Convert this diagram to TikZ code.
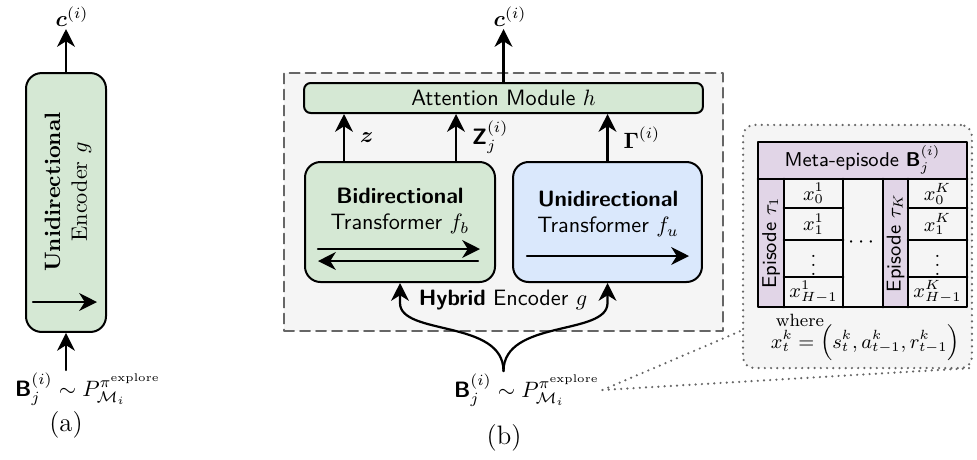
\documentclass[tikz,border=0pt]{standalone}
\usepackage{amsmath,amssymb}
\usetikzlibrary{arrows.meta,calc}
\newcommand{\sfB}{\mbox{\sffamily\bfseries B}}
\newcommand{\sfZ}{\mbox{\sffamily\bfseries Z}}
\newcommand{\explore}{P_{\mathcal{M}_i}^{\pi^{\mathrm{explore}}}}
\begin{document}
\begin{tikzpicture}[x=0.45pt, y=-0.45pt, line cap=round, line join=round,
    >={Stealth[length=8pt,width=8pt,inset=2.5pt]},
    flow/.style={->, line width=1pt},
    encbox/.style={draw, line width=0.9pt, fill=boxgreen, rounded corners=7pt, inner sep=0pt},
    lbl/.style={inner sep=1pt},
    dots/.style={draw=edgegray, dash pattern=on 0pt off 2.8pt, line width=1.1pt}]
  \definecolor{boxgreen}{HTML}{D5E8D4}
  \definecolor{boxblue}{HTML}{DAE8FC}
  \definecolor{boxpurple}{HTML}{E1D5E7}
  \definecolor{panelgray}{HTML}{F5F5F5}
  \definecolor{edgegray}{HTML}{666666}
  \useasboundingbox (0,0) rectangle (977,459);

  % (a)
  \node[encbox, minimum width=36pt, minimum height=116.5pt] (encA) at (66,202.5) {};
  \node[rotate=90, align=center] (encAtxt) at (68,192) {\textbf{Unidirectional}\\Encoder $g$};
  \draw[flow] (33,302) -- (97,302);
  \node[lbl, anchor=south] (cA) at (72,29) {$\boldsymbol{c}^{(i)}$};
  \draw[flow] (encA.north) -- (encA.north |- cA.south);
  \node[lbl] (inA) at (88,389) {$\sfB_j^{(i)} \sim \explore$};
  \draw[flow] (encA.south |- inA.north) -- (encA.south);
  \node[font=\large] (capA) at (66,425) {(a)};

  % (b)
  \node[draw=edgegray, dash pattern=on 4.5pt off 2.7pt, line width=0.8pt, fill=panelgray,
    minimum width=197.5pt, minimum height=116pt, inner sep=0pt] (hyb) at (503.5,202) {};
  \node[encbox, rounded corners=3pt, minimum width=179.5pt, minimum height=13.5pt,
    font=\sffamily] (attn) at (503.5,98) {Attention Module $h$};
  \node[encbox, minimum width=85.5pt, minimum height=54pt] (bidir) at (400,222) {};
  \node[encbox, fill=boxblue, minimum width=85pt, minimum height=54pt] (unidir) at (607.5,222) {};
  \node[align=center, font=\sffamily] (bidirtxt) at (400,211) {\textbf{Bidirectional}\\Transformer $f_b$};
  \node[align=center, font=\sffamily] (unidirtxt) at (608,214) {\textbf{Unidirectional}\\Transformer $f_u$};
  \draw[flow] (318,249) -- (480,249);
  \draw[flow] (478,261) -- (318,261);
  \draw[flow] (527,256) -- (689,256);

  \coordinate (zb) at ($(bidir.north west)+(40,0)$);
  \coordinate (Zb) at ($(bidir.north east)+(-40,0)$);
  \draw[flow] (zb) -- (zb |- attn.south) node[midway, right=3.4pt] {$\boldsymbol{z}$};
  \draw[flow] (Zb) -- (Zb |- attn.south) node[midway, right=3.4pt] {$\sfZ_j^{(i)}$};
  \draw[flow] (unidir.north) -- (attn.south -| unidir.north) node[midway, right=3.4pt] {$\boldsymbol{\Gamma}^{(i)}$};

  \node[lbl, anchor=south] (cB) at (510,29) {$\boldsymbol{c}^{(i)}$};
  \draw[flow] (attn.north) -- (attn.north |- cB.south);

  \node[font=\sffamily] (hybtxt) at (503,300) {\textbf{Hybrid} Encoder $g$};
  \node[lbl] (inB) at (527,390) {$\sfB_j^{(i)} \sim \explore$};
  \coordinate (hin) at (inB.north -| hyb.south);
  \draw[flow] (hin) .. controls +(0,-52) and +(0,33) .. ($(bidir.south)+(0,20)$) -- (bidir.south);
  \draw[flow] (hin) .. controls +(0,-52) and +(0,33) .. ($(unidir.south)+(0,20)$) -- (unidir.south);
  \node[font=\large] (capB) at (504,438) {(b)};

  % zoomed meta-episode
  \draw[dots] (inB.east) -- ($(743,368)+(0,-38)$);
  \draw[dots] (inB.east) -- (972,368);
  \node[dots, fill=panelgray, rounded corners=5pt, minimum width=103pt,
    minimum height=109.4pt, inner sep=0pt] (zoom) at (857.5,246.5) {};

  \fill[boxpurple] (758,142) rectangle (967,179);
  \fill[boxpurple] (758,179) rectangle (784,307);
  \fill[boxpurple] (883,179) rectangle (908,307);
  \draw[very thick] (758,142) rectangle (967,307);
  \draw[very thick] (758,179) -- (967,179);
  \foreach \vx in {784,843,883,908}
    \draw[very thick] (\vx,179) -- (\vx,307);
  \foreach \hy in {208,240,277} {
    \draw[very thick] (784,\hy) -- (843,\hy);
    \draw[very thick] (908,\hy) -- (967,\hy);
  }
  \node[font=\small\sffamily] (meta) at (862.5,160) {Meta-episode $\sfB_j^{(i)}$};
  \node[rotate=90, font=\small\sffamily] (ep1) at (771,243) {Episode $\tau_1$};
  \node[rotate=90, font=\small\sffamily] (epK) at (895.5,243) {Episode $\tau_K$};
  \node (hdots) at (863,243) {$\cdots$};
  \foreach \cx/\k in {813.5/1, 937.5/K} {
    \node[font=\small] at (\cx,193.5) {$x^{\k}_{0}$};
    \node[font=\small] at (\cx,224) {$x^{\k}_{1}$};
    \node[font=\small] at (\cx,258.5) {$\vdots$};
    \node[font=\small] at (\cx,292) {$x^{\k}_{H-1}$};
  }
  \node[anchor=west, font=\footnotesize] (where) at (768,320) {where};
  \node[anchor=west, font=\small] (xdef) at (763,343) {$x^k_t = \Big(s^k_t, a^k_{t-1}, r^k_{t-1}\Big)$};
\end{tikzpicture}
\end{document}
